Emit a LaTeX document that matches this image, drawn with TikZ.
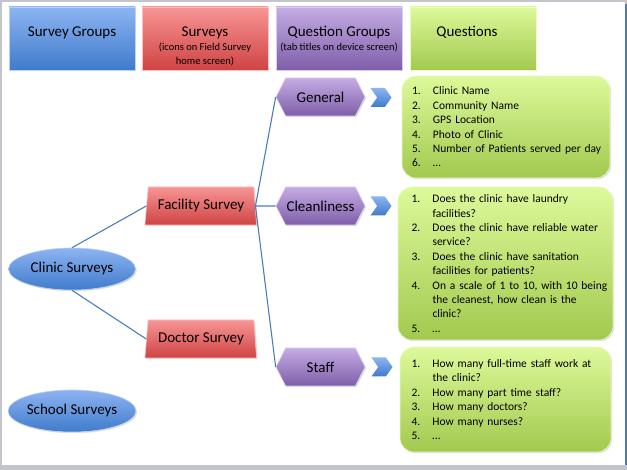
\documentclass[tikz,border=0pt]{standalone}
\usepackage{fontspec}
\setmainfont{Carlito}
\usetikzlibrary{shapes.geometric,shapes.symbols,shadows}

\definecolor{blueTop}{HTML}{8DB4F2}
\definecolor{blueBot}{HTML}{3F7BCB}
\definecolor{redTop}{HTML}{F89595}
\definecolor{redBot}{HTML}{CF4343}
\definecolor{purpleTop}{HTML}{C4ACE4}
\definecolor{purpleBot}{HTML}{7F5EA9}
\definecolor{greenTop}{HTML}{DDF99A}
\definecolor{greenBot}{HTML}{A2C94F}
\definecolor{linkBlue}{HTML}{4A7EBB}
\definecolor{frameGray}{HTML}{C4C4CC}
\definecolor{frameDark}{HTML}{5A76A6}

\newcommand{\qitem}[2]{\makebox[21pt][l]{#1}\mbox{#2}}
\newcommand{\subnote}{\fontsize{10.5}{14}\selectfont}

\tikzset{
  softshadow/.style={drop shadow={shadow xshift=1.2pt, shadow yshift=-1.2pt, opacity=0.25}},
  header/.style={rectangle, softshadow, minimum width=126pt, minimum height=63pt,
    inner sep=0pt, align=center, text height=30pt, text depth=33pt,
    font=\fontsize{15}{14}\selectfont},
  bluefill/.style={top color=blueTop, bottom color=blueBot, draw=blueTop!60!white, line width=0.6pt},
  redfill/.style={top color=redTop, bottom color=redBot, draw=redTop!60!white, line width=0.6pt},
  purplefill/.style={top color=purpleTop, bottom color=purpleBot, draw=purpleTop!60!white, line width=0.6pt},
  greenfill/.style={top color=greenTop, bottom color=greenBot, draw=greenTop!60!white, line width=0.6pt},
  groupnode/.style={ellipse, bluefill, softshadow, minimum width=127pt, minimum height=42pt,
    inner sep=0pt, font=\fontsize{15}{17}\selectfont},
  surveynode/.style={trapezium, trapezium left angle=78, trapezium right angle=80,
    trapezium stretches=true, redfill, softshadow, minimum width=112pt, minimum height=38pt,
    inner sep=0pt, font=\fontsize{15}{17}\selectfont},
  tabnode/.style={signal, signal to=east and west, signal pointer angle=126, purplefill,
    softshadow, minimum width=89pt, minimum height=38pt, inner sep=0pt,
    font=\fontsize{15}{17}\selectfont},
  chevron/.style={signal, signal from=west, signal to=east, signal pointer angle=110,
    top color=blueTop, bottom color=blueBot, minimum width=21pt, minimum height=19pt, inner sep=0pt},
  listbox/.style={rectangle, rounded corners=14pt, greenfill, softshadow, inner sep=0pt,
    text width=188pt, align=left, font=\fontsize{11.5}{14.4}\selectfont},
  link/.style={linkBlue, line width=1.1pt}
}

\begin{document}
\begin{tikzpicture}[x=1pt, y=-1pt]
\useasboundingbox (0,0) rectangle (627,470);
\fill[frameGray] (0,0) rectangle (627,470);
\fill[white] (2,2) rectangle (625,465);
\fill[frameDark] (624.6,4) rectangle (626.6,465);

% column headers
\node[header, bluefill] (hgroups) at (72,38.5) {Survey Groups};
\node[header, redfill, text height=57.5pt, text depth=5.5pt] (hsurveys) at (205,38.5)
  {Surveys\\{\subnote (icons on Field Survey}\\{\subnote home screen)}};
\node[header, purplefill, text height=43.5pt, text depth=19.5pt] (hqgroups) at (339,38.5)
  {Question Groups\\{\subnote (tab titles on device screen)}};
\node[header, greenfill] (hquestions) at (473,38.5) {Questions\hspace*{12pt}};

% survey groups
\node[groupnode] (clinic) at (72,269) {Clinic Surveys};
\node[groupnode] (school) at (72,411) {School Surveys};

% surveys
\node[surveynode] (facility) at (201,206) {Facility Survey};
\node[surveynode] (doctor) at (201,339) {Doctor Survey};

% question groups
\node[tabnode] (general) at (320.5,97) {General};
\node[tabnode] (clean) at (320.5,206) {Cleanliness};
\node[tabnode] (staff) at (320.5,367) {Staff};

\node[chevron] (arr1) at (381,97.5) {};
\node[chevron] (arr2) at (381,206) {};
\node[chevron] (arr3) at (382,367) {};

% questions
\node[listbox, minimum width=208pt, minimum height=102pt] (qgeneral) at (506,127) {%
  \qitem{1.}{Clinic Name}\\
  \qitem{2.}{Community Name}\\
  \qitem{3.}{GPS Location}\\
  \qitem{4.}{Photo of Clinic}\\
  \qitem{5.}{Number of Patients served per day}\\
  \qitem{6.}{\ldots}};
\node[listbox, minimum width=215pt, minimum height=153pt] (qclean) at (505.5,263.5) {%
  \qitem{1.}{Does the clinic have laundry}\\
  \qitem{}{facilities?}\\
  \qitem{2.}{Does the clinic have reliable water}\\
  \qitem{}{service?}\\
  \qitem{3.}{Does the clinic have sanitation}\\
  \qitem{}{facilities for patients?}\\
  \qitem{4.}{On a scale of 1 to 10, with 10 being}\\
  \qitem{}{the cleanest, how clean is the}\\
  \qitem{}{clinic?}\\
  \qitem{5.}{\ldots}};
\node[listbox, minimum width=211pt, minimum height=105pt] (qstaff) at (505.5,399.5) {%
  \qitem{1.}{How many full-time staff work at}\\
  \qitem{}{the clinic?}\\
  \qitem{2.}{How many part time staff?}\\
  \qitem{3.}{How many doctors?}\\
  \qitem{4.}{How many nurses?}\\
  \qitem{5.}{\ldots}};

% connectors
\draw[link] (clinic.north) -- (facility.west);
\draw[link] (clinic.south) -- (doctor.west);
\draw[link] (facility.east) -- (general.west);
\draw[link] (facility.east) -- (clean.west);
\draw[link] (facility.east) -- (staff.west);
\end{tikzpicture}
\end{document}
